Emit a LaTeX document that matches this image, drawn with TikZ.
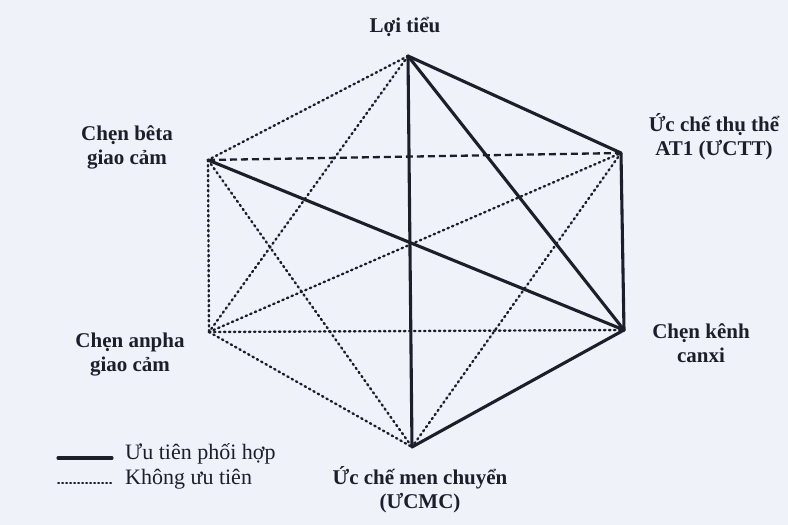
\documentclass[tikz,border=0pt]{standalone}
\usepackage{fontspec}
\setmainfont{Liberation Serif}
\usepackage{tikz}
\usetikzlibrary{positioning}
\definecolor{paperblue}{RGB}{240,242,250}
\definecolor{inkdark}{RGB}{28,30,42}
\begin{document}
\begin{tikzpicture}[x=1pt,y=-1pt,line cap=round,line join=round,
 uutien/.style={inkdark,line width=3.1pt},
 khong/.style={inkdark,line width=2.4pt,dash pattern=on 1.4pt off 3.6pt},
 gach/.style={inkdark,line width=2.3pt,line cap=butt,dash pattern=on 7pt off 4pt},
 nhan/.style={inkdark,font=\fontsize{21}{24}\selectfont\bfseries,align=center,inner sep=0pt},
 chuthich/.style={inkdark,font=\fontsize{22}{24}\selectfont,anchor=west,inner sep=0pt}]
% khung 788x525, toa do theo pixel, y huong xuong
\fill[paperblue] (0,0) rectangle (788,525);
\useasboundingbox (0,0) rectangle (788,525);
% sau dinh cua luc giac
\coordinate (lt) at (408,56);
\coordinate (uctt) at (621,153);
\coordinate (kenh) at (624,330);
\coordinate (ucmc) at (412,447);
\coordinate (anpha) at (209,332);
\coordinate (beta) at (208,160);
% cac cap khong uu tien
\foreach \a/\b in {lt/beta,lt/anpha,beta/anpha,beta/ucmc,anpha/uctt,anpha/kenh,anpha/ucmc,uctt/ucmc}
 \draw[khong] (\a)--(\b);
\draw[gach] (beta)--(uctt);
% cac cap uu tien phoi hop
\foreach \a/\b in {lt/uctt,lt/kenh,lt/ucmc,uctt/kenh,kenh/ucmc,beta/kenh}
 \draw[uutien] (\a)--(\b);
\node[nhan] (nlt) at (405,27) {Lợi tiểu};
\node[nhan] (nuctt) at (714,137) {Ức chế thụ thể\\AT1 (ƯCTT)};
\node[nhan] (nkenh) at (701,343) {Chẹn kênh\\canxi};
\node[nhan] (nucmc) at (420,490) {Ức chế men chuyển\\(ƯCMC)};
\node[nhan] (nanpha) at (130,355) {Chẹn anpha\\giao cảm};
\node[nhan] (nbeta) at (127,147) {Chẹn bêta\\giao cảm};
% chu thich
\coordinate (s1) at (58,458);
\coordinate (s2) at (112,458);
\coordinate (d1) at (58,483);
\coordinate (d2) at (112,483);
\draw[uutien] (s1)--(s2);
\draw[inkdark,line width=1.8pt,dash pattern=on 1.2pt off 2.8pt] (d1)--(d2);
\node[chuthich] (c1) at (125,454) {Ưu tiên phối hợp};
\node[chuthich] (c2) at (125,479) {Không ưu tiên};
\end{tikzpicture}
\end{document}
